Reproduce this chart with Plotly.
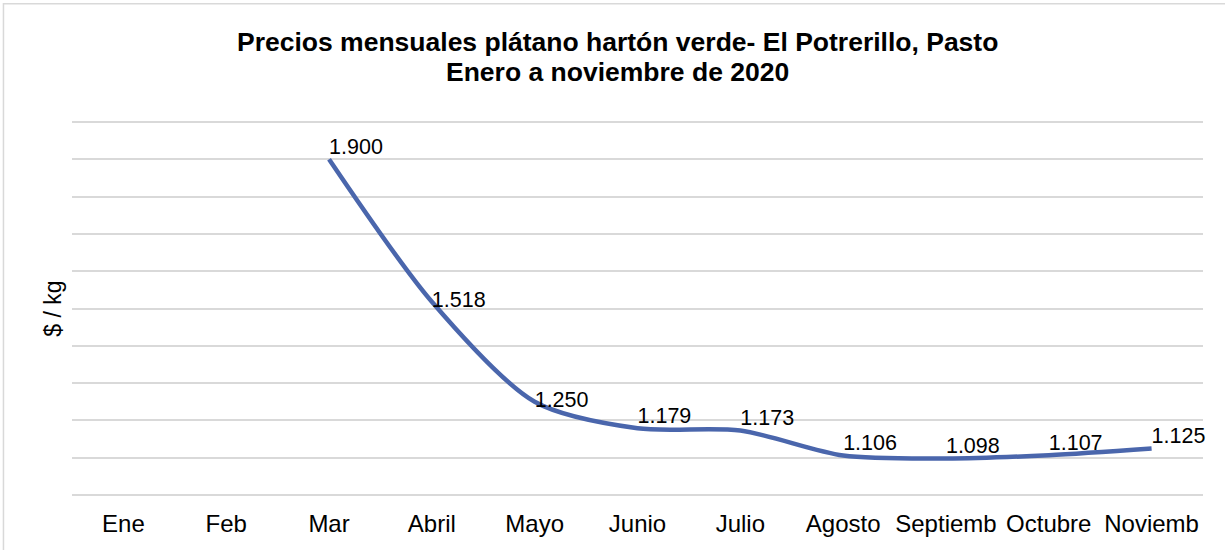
import plotly.graph_objects as go

months = ["Ene", "Feb", "Mar", "Abril", "Mayo", "Junio", "Julio", "Agosto",
          "Septiemb", "Octubre", "Noviemb"]
prices = [None, None, 1900, 1518, 1250, 1179, 1173, 1106, 1098, 1107, 1125]

title_line1 = "Precios mensuales plátano hartón verde- El Potrerillo, Pasto"
title_line2 = "Enero a noviembre de 2020"

label_pos = ["top right", "top right", "top right", "middle right", "middle right",
             "top right", "top right", "top right", "top right", "top right", "top right"]

FONT = "Liberation Sans, Arial, sans-serif"
LINE_COLOR = "#4A66AC"
GRID = "#D9D9D9"

fig = go.Figure()
fig.add_trace(go.Scatter(
    x=months, y=prices,
    mode="lines+text",
    line=dict(color=LINE_COLOR, width=4.5, shape="spline", smoothing=0.8),
    texttemplate="%{y:,.0f}",
    textposition=label_pos,
    textfont=dict(family=FONT, size=21.5, color="#000000"),
    connectgaps=False,
    cliponaxis=False,
    hoverinfo="skip",
))

fig.update_layout(
    width=1225, height=550,
    paper_bgcolor="white", plot_bgcolor="white",
    separators=",.",
    margin=dict(l=72, r=22, t=120, b=53, autoexpand=False),
    showlegend=False,
    xaxis=dict(
        type="category", range=[-0.5, len(months) - 0.5],
        showgrid=False, showline=False, zeroline=False,
        ticks="", automargin=False, ticklabelstandoff=10,
        tickfont=dict(family=FONT, size=24, color="#000000"),
    ),
    yaxis=dict(
        range=[995, 2005], dtick=100, tick0=1000,
        showgrid=True, gridcolor=GRID, gridwidth=1.5,
        showticklabels=False, zeroline=False, showline=False, automargin=False,
        title=dict(text="$ / kg", font=dict(family=FONT, size=23, color="#000000"), standoff=2),
    ),
    annotations=[
        dict(text="<b>" + title_line1 + "</b>", xref="paper", yref="paper",
             x=0.482, y=1.2064, xanchor="center", yanchor="middle", showarrow=False,
             font=dict(family=FONT, size=26.5, color="#000000")),
        dict(text="<b>" + title_line2 + "</b>", xref="paper", yref="paper",
             x=0.482, y=1.126, xanchor="center", yanchor="middle", showarrow=False,
             font=dict(family=FONT, size=26.5, color="#000000")),
    ],
    shapes=[dict(
        type="rect", xref="paper", yref="paper",
        x0=-0.0606, x1=1.03, y0=-0.3, y1=1.3083,
        line=dict(color=GRID, width=1.5), fillcolor="rgba(0,0,0,0)",
    )],
)

fig.write_html("out.html", config={"displayModeBar": False},
               post_script="document.body.style.margin='0';")
